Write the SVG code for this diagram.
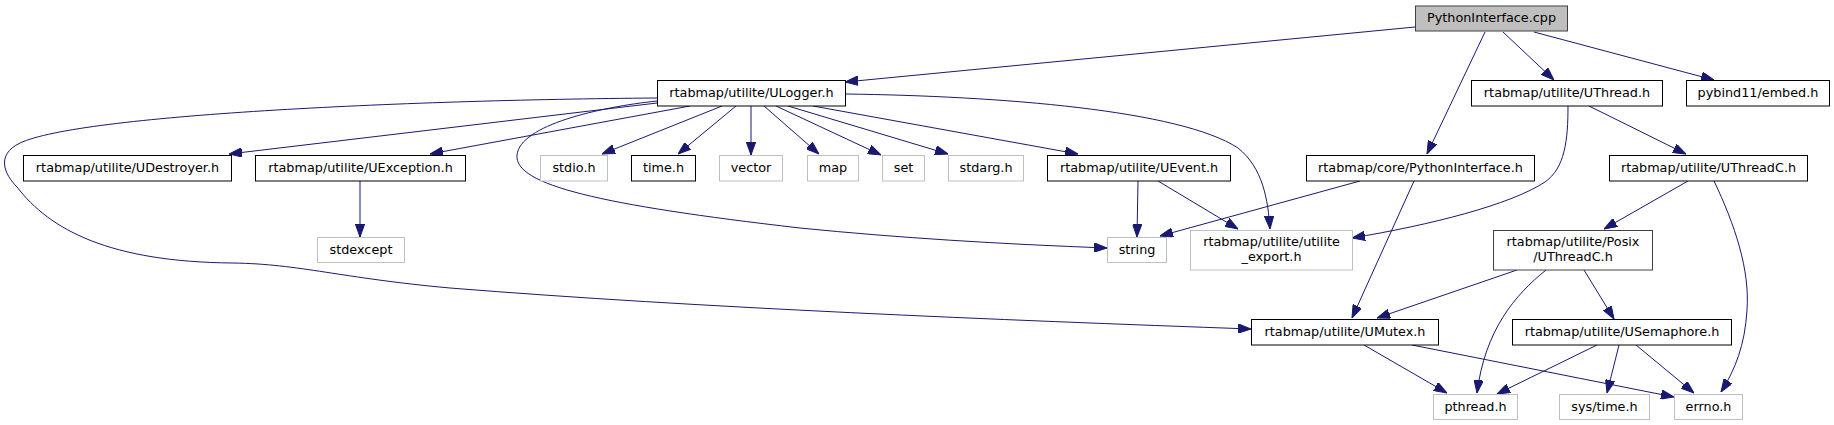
<svg xmlns="http://www.w3.org/2000/svg" width="1834" height="425" viewBox="0 0 1834 425">
<style>
  .n rect { fill: #ffffff; stroke: #000000; stroke-width: 1; }
  .n.ext rect { stroke: #bfbfbf; }
  .n.root rect { fill: #bfbfbf; stroke: #404040; }
  .n.dk rect { stroke: #404040; }
  .n text { font-family: "DejaVu Sans", "Liberation Sans", sans-serif; font-size: 12.8px; fill: #000000; text-anchor: middle; }
  .e path { fill: none; stroke: #191970; stroke-width: 1; marker-end: url(#ah); }
</style>
<defs>
  <marker id="ah" viewBox="0 0 13 9.4" refX="13" refY="4.7" markerWidth="13" markerHeight="9.4" markerUnits="userSpaceOnUse" orient="auto">
    <path d="M0,0 L13,4.7 L0,9.4 z" fill="#191970" stroke="#191970" stroke-width="1"/>
  </marker>
</defs>
<rect width="1834" height="425" fill="#ffffff"/>
<g id="edges" class="e">
  <path d="M1415,27 L845,82"/>
  <path d="M1485,32 L1427,154"/>
  <path d="M1503,32 L1554,80"/>
  <path d="M1534,32 L1714,80"/>
  <path d="M657,103 L229,154"/>
  <path d="M690,106 L430,154"/>
  <path d="M722,106 L602,154"/>
  <path d="M736,106 L678,154"/>
  <path d="M751,106 L751,155"/>
  <path d="M764,106 L819,154"/>
  <path d="M776,106 L881,155"/>
  <path d="M788,106 L948,154"/>
  <path d="M813,106 L1078,154"/>
  <path d="M657,101 C600,107 520,125 517,155 C514,185 600,205 800,228 C900,238 1000,244 1107,248"/>
  <path d="M845,94 C1000,96 1180,110 1238,148 C1263,168 1268,200 1270,229"/>
  <path d="M657,98 C400,100 80,115 20,143 C-5,155 5,175 17,187 C50,230 110,262 233,263 C300,264 340,278 450,288 C700,308 1000,320 1251,329"/>
  <path d="M360,181 L360,237"/>
  <path d="M1138,181 L1137,237"/>
  <path d="M1158,181 L1238,229"/>
  <path d="M1360,181 L1160,236"/>
  <path d="M1414,181 L1352,318"/>
  <path d="M1589,106 L1686,154"/>
  <path d="M1568,106 C1568,140 1565,168 1545,182 C1510,205 1430,225 1352,238"/>
  <path d="M1688,181 L1604,229"/>
  <path d="M1714,181 C1735,225 1750,270 1747,310 C1745,345 1735,370 1721,392"/>
  <path d="M1517,270 L1377,318"/>
  <path d="M1546,270 C1515,295 1485,330 1477,393"/>
  <path d="M1584,270 L1614,319"/>
  <path d="M1364,345 L1447,393"/>
  <path d="M1412,345 L1674,397"/>
  <path d="M1597,345 L1497,394"/>
  <path d="M1619,345 L1607,393"/>
  <path d="M1636,345 L1694,393"/>
</g>
<g id="n_cpp" class="n root"><rect x="1415.5" y="6" width="152" height="25"/><text x="1491.5" y="22.3">PythonInterface.cpp</text></g>
<g id="n_ulogger" class="n"><rect x="657.5" y="80.5" width="188" height="25.5"/><text x="751.5" y="97">rtabmap/utilite/ULogger.h</text></g>
<g id="n_uthread" class="n"><rect x="1471.5" y="80.5" width="191" height="25.5"/><text x="1567" y="97">rtabmap/utilite/UThread.h</text></g>
<g id="n_pybind" class="n"><rect x="1686.5" y="80.5" width="143" height="25.5"/><text x="1758" y="97">pybind11/embed.h</text></g>
<g id="n_udestroyer" class="n"><rect x="23.5" y="155.5" width="208" height="25.5"/><text x="127.5" y="171.8">rtabmap/utilite/UDestroyer.h</text></g>
<g id="n_uexception" class="n"><rect x="255.5" y="155.5" width="210" height="25.5"/><text x="360.5" y="171.8">rtabmap/utilite/UException.h</text></g>
<g id="n_stdio" class="n ext"><rect x="540.5" y="155.5" width="67" height="25.5"/><text x="574" y="171.8">stdio.h</text></g>
<g id="n_time" class="n"><rect x="631.5" y="155.5" width="64" height="25.5"/><text x="663.5" y="171.8">time.h</text></g>
<g id="n_vector" class="n ext"><rect x="719.5" y="155.5" width="63" height="25.5"/><text x="751" y="171.8">vector</text></g>
<g id="n_map" class="n ext"><rect x="807.5" y="155.5" width="51" height="25.5"/><text x="833" y="171.8">map</text></g>
<g id="n_set" class="n ext"><rect x="882.5" y="155.5" width="42" height="25.5"/><text x="903.5" y="171.8">set</text></g>
<g id="n_stdarg" class="n ext"><rect x="948.5" y="155.5" width="75" height="25.5"/><text x="986" y="171.8">stdarg.h</text></g>
<g id="n_uevent" class="n"><rect x="1047.5" y="155.5" width="183" height="25.5"/><text x="1139" y="171.8">rtabmap/utilite/UEvent.h</text></g>
<g id="n_corepy" class="n"><rect x="1306.5" y="155.5" width="228" height="25.5"/><text x="1420.5" y="171.8">rtabmap/core/PythonInterface.h</text></g>
<g id="n_uthreadc" class="n"><rect x="1609.5" y="155.5" width="198" height="25.5"/><text x="1708.5" y="171.8">rtabmap/utilite/UThreadC.h</text></g>
<g id="n_stdexcept" class="n ext"><rect x="317.5" y="237.5" width="87" height="25"/><text x="361" y="253.5">stdexcept</text></g>
<g id="n_string" class="n ext"><rect x="1107.5" y="237.5" width="59" height="25"/><text x="1137" y="253.5">string</text></g>
<g id="n_export" class="n ext"><rect x="1190.5" y="230.5" width="162" height="39.5"/><text x="1271.5" y="246.3">rtabmap/utilite/utilite</text><text x="1271.5" y="261.3">_export.h</text></g>
<g id="n_posix" class="n dk"><rect x="1493.5" y="230.5" width="159" height="39.5"/><text x="1573" y="246.3">rtabmap/utilite/Posix</text><text x="1573" y="261.3">/UThreadC.h</text></g>
<g id="n_umutex" class="n"><rect x="1251.5" y="319.5" width="187" height="25.5"/><text x="1345" y="335.8">rtabmap/utilite/UMutex.h</text></g>
<g id="n_usem" class="n"><rect x="1512.5" y="319.5" width="219" height="25.5"/><text x="1622" y="335.8">rtabmap/utilite/USemaphore.h</text></g>
<g id="n_pthread" class="n ext"><rect x="1433.5" y="394.5" width="84" height="25"/><text x="1475.5" y="410.5">pthread.h</text></g>
<g id="n_systime" class="n ext"><rect x="1559.5" y="394.5" width="90" height="25"/><text x="1604.5" y="410.5">sys/time.h</text></g>
<g id="n_errno" class="n ext"><rect x="1674.5" y="394.5" width="68" height="25"/><text x="1708.5" y="410.5">errno.h</text></g>
</svg>
